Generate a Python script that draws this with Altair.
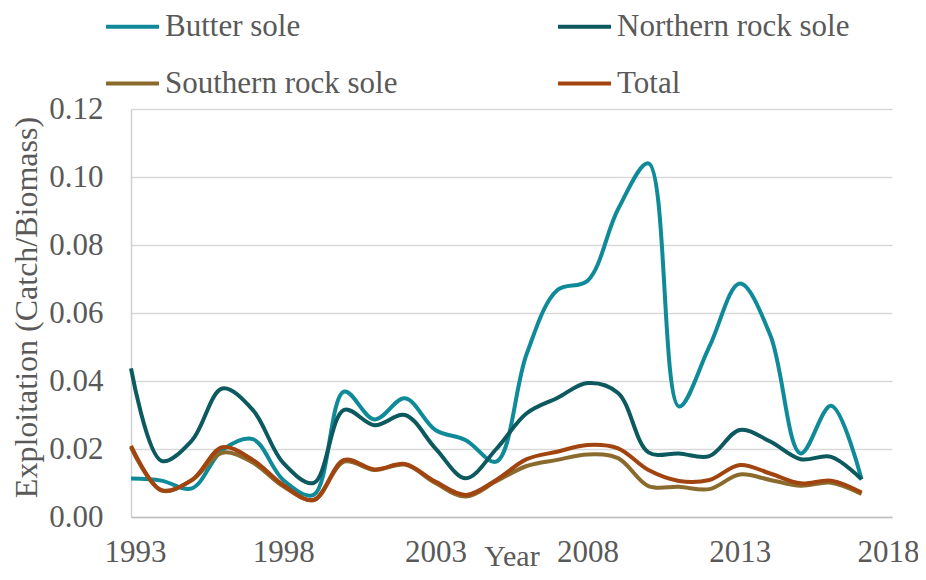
import altair as alt
import pandas as pd

years = list(range(1993, 2018))
series_names = ["Butter sole", "Northern rock sole", "Southern rock sole", "Total"]
series_colors = ["#0F8A98", "#0C5A5F", "#8B6A2E", "#A1440F"]

butter = [0.0113, 0.0107, 0.0084, 0.0197, 0.0229, 0.0109, 0.0065, 0.0369, 0.0287, 0.0349,
          0.0256, 0.0226, 0.0163, 0.0480, 0.0667, 0.0695, 0.0905, 0.1040, 0.0325, 0.0501,
          0.0687, 0.0535, 0.0187, 0.0327, 0.0111]
northern = [0.0437, 0.0165, 0.0225, 0.0378, 0.0315, 0.0159, 0.0100, 0.0315, 0.0270, 0.0300,
            0.0202, 0.0114, 0.0200, 0.0305, 0.0350, 0.0394, 0.0365, 0.0190, 0.0187, 0.0179,
            0.0256, 0.0222, 0.0170, 0.0177, 0.0111]
southern = [0.0205, 0.0078, 0.0108, 0.0189, 0.0160, 0.0090, 0.0050, 0.0163, 0.0138, 0.0154,
            0.0100, 0.0060, 0.0105, 0.0150, 0.0168, 0.0184, 0.0173, 0.0091, 0.0089, 0.0082,
            0.0125, 0.0109, 0.0092, 0.0101, 0.0068]
total = [0.0209, 0.0079, 0.0109, 0.0205, 0.0168, 0.0094, 0.0050, 0.0168, 0.0140, 0.0156,
         0.0104, 0.0065, 0.0109, 0.0170, 0.0192, 0.0212, 0.0202, 0.0138, 0.0106, 0.0109,
         0.0153, 0.0128, 0.0099, 0.0107, 0.0072]

x_ticks = [1993, 1998, 2003, 2008, 2013, 2018]
y_ticks = [0.0, 0.02, 0.04, 0.06, 0.08, 0.10, 0.12]

rows = []
for name, vals in zip(series_names, [butter, northern, southern, total]):
    for yr, v in zip(years, vals):
        rows.append({"year": yr, "value": v, "series": name})
df = pd.DataFrame(rows)

FONT = "Liberation Serif, Times New Roman, serif"
GRAY = "#595959"

chart = alt.Chart(df).mark_line(interpolate="catmull-rom", strokeWidth=4).encode(
    x=alt.X("year:Q",
            scale=alt.Scale(domain=[1993, 2018], nice=False, zero=False),
            axis=alt.Axis(values=x_ticks, format="d", title="Year", grid=False,
                          tickSize=0, labelPadding=20, labelFontSize=31,
                          labelFlush=True, labelFlushOffset=27,
                          labelFont=FONT, labelColor=GRAY, domainColor="#BFBFBF",
                          domainWidth=1.5, titleFont=FONT, titleFontSize=30,
                          titleFontWeight="normal", titleColor=GRAY,
                          titleBaseline="alphabetic", titleY=48, titleAlign="center")),
    y=alt.Y("value:Q",
            scale=alt.Scale(domain=[0, 0.12], nice=False),
            axis=alt.Axis(values=y_ticks, format=".2f",
                          title="Exploitation (Catch/Biomass)",
                          grid=True, gridColor="#D9D9D9", gridWidth=1.5,
                          tickSize=0, labelPadding=28, labelFontSize=31,
                          labelFont=FONT, labelColor=GRAY, domainColor="#D0D0D0",
                          domainWidth=1.5, titleFont=FONT, titleFontSize=32,
                          titleFontWeight="normal", titleColor=GRAY,
                          titleAngle=270, titleX=-95, titleY=198,
                          titleAlign="center", titleBaseline="alphabetic")),
    color=alt.Color("series:N",
                    scale=alt.Scale(domain=series_names, range=series_colors),
                    title=None,
                    legend=alt.Legend(orient="none", legendX=-27, legendY=-111,
                                      direction="horizontal",
                                      columns=2, symbolType="stroke",
                                      symbolSize=2809, symbolStrokeWidth=4,
                                      labelFont=FONT, labelFontSize=31,
                                      labelColor=GRAY, labelOffset=4,
                                      columnPadding=152, rowPadding=13,
                                      padding=0, labelLimit=400)),
).properties(
    width=761, height=408,
    autosize=alt.AutoSizeParams(type="none"),
    padding={"left": 123, "top": 101, "right": 26, "bottom": 55},
).configure_view(stroke=None)

chart.save("out.html", embed_options={"renderer": "svg", "actions": False})
